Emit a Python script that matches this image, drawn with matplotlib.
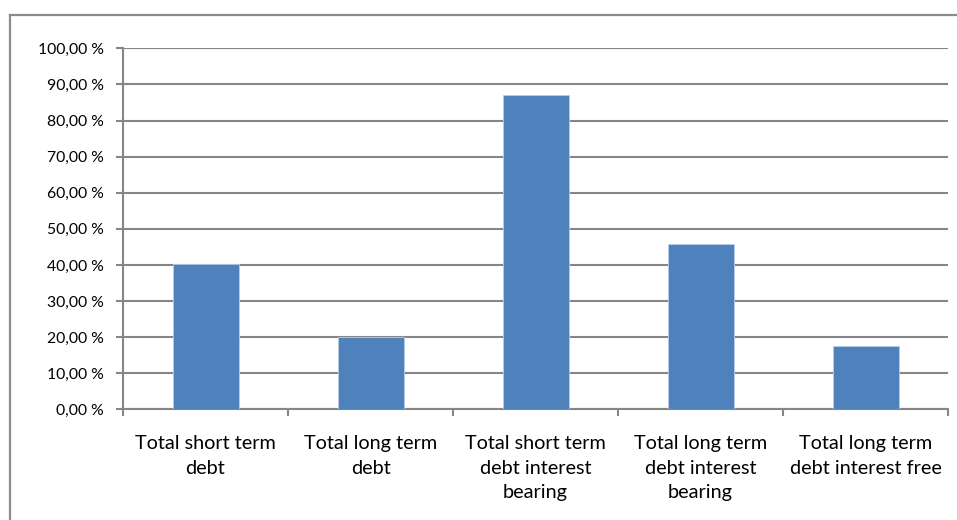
import matplotlib
matplotlib.use("Agg")
import matplotlib.pyplot as plt
from matplotlib.lines import Line2D
from matplotlib.ticker import FuncFormatter, MultipleLocator

categories = [
    "Total short term\ndebt",
    "Total long term\ndebt",
    "Total short term\ndebt interest\nbearing",
    "Total long term\ndebt interest\nbearing",
    "Total long term\ndebt interest free",
]
values = [40.3, 20.1, 87.1, 45.7, 17.5]

FONT = "Lato"
GRID = "#868686"
BAR = "#4F81BD"

W, H = 957, 520
fig = plt.figure(figsize=(W / 100, H / 100), dpi=100)
ax = fig.add_axes([123 / W, 1 - 409.3 / H, (948 - 123) / W, (409.3 - 48.3) / H])

x = list(range(len(categories)))
ax.bar(x, values, width=0.4, color=BAR, edgecolor="#B9CDE5", linewidth=0.6, zorder=3)

ax.set_xlim(-0.5, len(categories) - 0.5)
ax.set_ylim(0, 100)
ax.yaxis.set_major_locator(MultipleLocator(10))
ax.yaxis.set_major_formatter(FuncFormatter(lambda v, p: f"{v:.2f}".replace(".", ",") + " %"))
ax.grid(axis="y", color=GRID, linewidth=1.5, zorder=1)

for side in ("top", "right"):
    ax.spines[side].set_visible(False)
for side in ("left", "bottom"):
    ax.spines[side].set_color(GRID)
    ax.spines[side].set_linewidth(1.5)

ax.tick_params(axis="y", direction="out", length=5, width=1.5, color=GRID,
               pad=9, labelsize=11.3, labelcolor="#000000")
for lab in ax.get_yticklabels():
    lab.set_fontfamily(FONT)

# category boundaries carry the x tick marks, labels sit at the centres
ax.set_xticks([i - 0.5 for i in range(len(categories) + 1)])
ax.set_xticklabels([])
ax.tick_params(axis="x", direction="out", length=5, width=1.5, color=GRID)
for i, c in enumerate(categories):
    ax.text(i, -7.1, c, ha="center", va="top", fontsize=14.3, family=FONT,
            linespacing=1.55, transform=ax.transData, color="#000000")

# chart-area frame: top and left edges
fig.add_artist(Line2D([10 / W, 1.0], [1 - 15 / H, 1 - 15 / H], transform=fig.transFigure,
                      color="#8C8C8C", linewidth=1.6))
fig.add_artist(Line2D([10 / W, 10 / W], [1 - 15 / H, 0.0], transform=fig.transFigure,
                      color="#8C8C8C", linewidth=1.6))

fig.savefig("out.png", dpi=100, facecolor="white")
